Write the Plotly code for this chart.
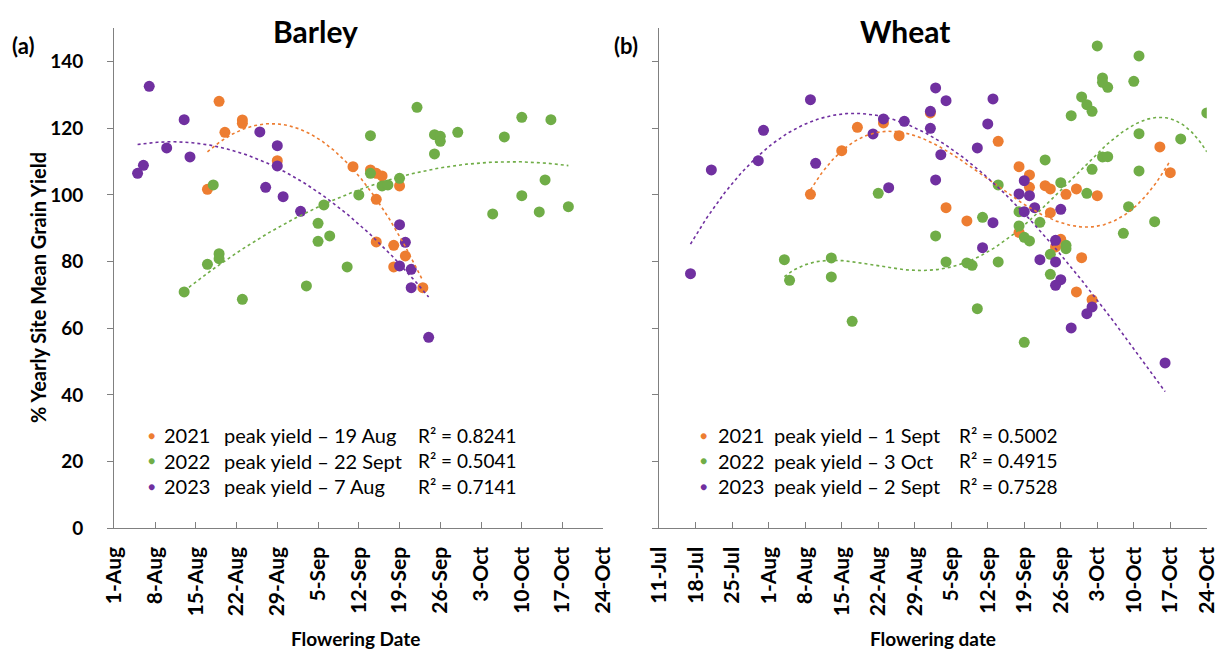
import numpy as np
import pandas as pd
import plotly.graph_objects as go

# ---------------- data ----------------
# Barley (dates as MM-DD, values = % yearly site mean grain yield)
barley_2021_dates = ["08-19", "08-20", "08-23", "08-23", "08-17", "08-29", "09-11", "09-14", "09-15",
                     "09-16", "09-19", "09-15", "09-15", "09-18", "09-20", "09-18", "09-23"]
barley_2021_yield = [128.1, 118.8, 122.5, 121.5, 101.7, 110.3, 108.5, 107.5, 106.5,
                     105.7, 102.7, 98.7, 85.9, 84.9, 81.7, 78.4, 72.2]

barley_2022_dates = ["08-18", "08-13", "08-17", "08-19", "08-19", "08-23", "09-03", "09-05", "09-05",
                     "09-07", "09-06", "09-10", "09-12", "09-14", "09-14", "09-16", "09-17", "09-19",
                     "09-22", "09-25", "09-25", "09-26", "09-26", "09-29", "10-07", "10-10", "10-10",
                     "10-15", "10-14", "10-05", "10-13", "10-18"]
barley_2022_yield = [103.0, 70.9, 79.2, 82.4, 80.9, 68.7, 72.7, 91.5, 86.1,
                     87.7, 97.0, 78.4, 100.0, 117.8, 106.5, 102.7, 103.0, 105.0,
                     126.3, 118.1, 112.3, 117.6, 116.1, 118.8, 117.4, 123.3, 99.8,
                     122.6, 104.5, 94.3, 94.9, 96.5]

barley_2023_dates = ["08-07", "08-06", "08-05", "08-10", "08-13", "08-14", "08-26", "08-29", "08-29",
                     "08-27", "08-30", "09-02", "09-19", "09-20", "09-19", "09-21", "09-21", "09-24"]
barley_2023_yield = [132.6, 108.9, 106.5, 114.1, 122.6, 111.4, 118.9, 114.8, 108.7,
                     102.3, 99.5, 95.1, 91.1, 85.8, 78.7, 77.7, 72.2, 57.3]

# Wheat
wheat_2021_dates = ["09-01", "08-23", "08-18", "08-26", "08-15", "08-09", "09-04", "09-14", "09-18",
                    "09-20", "09-20", "09-23", "09-24", "09-27", "09-29", "10-03", "09-24", "09-08",
                    "09-18", "09-26", "09-25", "09-30", "10-15", "10-17", "09-29", "10-02"]
wheat_2021_yield = [124.6, 121.6, 120.3, 117.8, 113.3, 100.2, 96.2, 116.1, 108.5,
                    106.0, 102.3, 102.8, 101.8, 100.2, 101.8, 99.8, 94.7, 92.2,
                    88.8, 86.7, 84.4, 81.2, 114.4, 106.7, 70.9, 68.6]

wheat_2022_dates = ["08-22", "09-02", "09-04", "08-04", "08-13", "08-05", "08-13", "08-17", "10-03",
                    "10-11", "10-04", "10-04", "10-05", "10-10", "09-30", "10-01", "10-02", "09-28",
                    "10-24", "10-11", "10-19", "10-04", "10-05", "10-02", "10-11", "09-23", "09-26",
                    "10-01", "10-09", "10-14", "10-08", "09-14", "09-11", "09-18", "09-18", "09-19",
                    "09-20", "09-22", "09-27", "09-27", "09-24", "09-14", "09-08", "09-09", "09-24",
                    "09-10", "09-19"]
wheat_2022_yield = [100.5, 87.7, 79.9, 80.6, 81.1, 74.4, 75.4, 62.1, 144.7,
                    141.7, 135.1, 133.8, 132.3, 134.1, 129.4, 127.1, 125.1, 123.8,
                    124.6, 118.4, 116.8, 111.4, 111.5, 107.7, 107.2, 110.5, 103.7,
                    100.5, 96.5, 92.0, 88.5, 103.0, 93.3, 95.0, 90.7, 87.3,
                    86.2, 91.8, 84.9, 83.9, 82.2, 79.9, 79.6, 78.9, 76.2,
                    65.9, 55.8]

wheat_2023_dates = ["09-02", "09-04", "08-09", "09-01", "08-23", "08-27", "09-01", "08-21", "07-31",
                    "07-30", "07-21", "08-10", "09-03", "09-02", "08-24", "07-17", "09-13", "09-12",
                    "09-10", "09-19", "09-18", "09-20", "09-21", "09-19", "09-26", "09-13", "09-11",
                    "09-22", "09-25", "09-25", "09-26", "09-25", "10-02", "10-01", "09-28", "10-16"]
wheat_2023_yield = [132.1, 128.3, 128.6, 125.1, 122.8, 122.1, 120.0, 118.3, 119.4,
                    110.3, 107.5, 109.5, 112.1, 104.5, 102.2, 76.4, 128.8, 121.3,
                    114.1, 104.3, 100.3, 99.8, 96.2, 95.0, 95.7, 91.7, 84.2,
                    80.6, 86.4, 79.9, 74.6, 72.9, 66.4, 64.4, 60.1, 49.6]

years = ["2021", "2022", "2023"]
barley_peaks = ["peak yield \u2013 19 Aug", "peak yield \u2013 22 Sept", "peak yield \u2013 7 Aug"]
barley_r2 = ["0.8241", "0.5041", "0.7141"]
wheat_peaks = ["peak yield \u2013 1 Sept", "peak yield \u2013 3 Oct", "peak yield \u2013 2 Sept"]
wheat_r2 = ["0.5002", "0.4915", "0.7528"]

barley_ticks = ["1-Aug", "8-Aug", "15-Aug", "22-Aug", "29-Aug", "5-Sep", "12-Sep", "19-Sep",
                "26-Sep", "3-Oct", "10-Oct", "17-Oct", "24-Oct"]
wheat_ticks = ["11-Jul", "18-Jul", "25-Jul", "1-Aug", "8-Aug", "15-Aug", "22-Aug", "29-Aug", "5-Sep",
               "12-Sep", "19-Sep", "26-Sep", "3-Oct", "10-Oct", "17-Oct", "24-Oct"]

# trendline polynomial orders (Excel-style polynomial trendlines)
barley_orders = [2, 2, 2]
wheat_orders = [3, 4, 3]

colors = ["#ED7D31", "#70AD47", "#7030A0"]
FONT = "Lato"
W, H = 1219, 653


def to_days(dates, start):
    d = pd.to_datetime(["2001-" + s for s in dates])
    return np.array((d - pd.Timestamp("2001-" + start)).days, dtype=float)


fig = go.Figure()

panels = [
    ("x", "y", "08-01",
     [barley_2021_dates, barley_2022_dates, barley_2023_dates],
     [barley_2021_yield, barley_2022_yield, barley_2023_yield], barley_orders),
    ("x2", "y2", "07-11",
     [wheat_2021_dates, wheat_2022_dates, wheat_2023_dates],
     [wheat_2021_yield, wheat_2022_yield, wheat_2023_yield], wheat_orders),
]

for xa, ya, start, dsets, vsets, orders in panels:
    for i in range(3):
        days = to_days(dsets[i], start)
        fig.add_trace(go.Scatter(x=days, y=vsets[i], mode="markers", xaxis=xa, yaxis=ya,
                                 marker=dict(size=11, color=colors[i], line=dict(width=0)),
                                 showlegend=False, hoverinfo="skip"))
    for i in range(3):
        days = to_days(dsets[i], start)
        c = np.polyfit(days, vsets[i], orders[i])
        xs = np.linspace(days.min(), days.max(), 300)
        fig.add_trace(go.Scatter(x=xs, y=np.polyval(c, xs), mode="lines", xaxis=xa, yaxis=ya,
                                 line=dict(color=colors[i], width=1.6, dash="dot"),
                                 showlegend=False, hoverinfo="skip"))

# ---------------- layout ----------------
def px_x(p):
    return p / W


def px_y(p):
    return 1 - p / H


ydom = [px_y(528.3), px_y(28.3)]
axis_gray = "#808080"
tickfont_x = dict(family=FONT, size=21, color="black", weight="bold")
tickfont_y = dict(family=FONT, size=19, color="black", weight="bold")

common_x = dict(showgrid=False, zeroline=False, showline=True, linecolor=axis_gray, linewidth=1.3,
                ticks="inside", ticklen=6, tickcolor=axis_gray, tickwidth=1.3, tickangle=-90,
                tickfont=tickfont_x, ticklabelstandoff=9, automargin=False)
common_y = dict(showgrid=False, zeroline=False, showline=True, linecolor=axis_gray, linewidth=1.3,
                ticks="outside", ticklen=6, tickcolor=axis_gray, tickwidth=1.3, range=[0, 150],
                tickvals=list(range(0, 141, 20)), automargin=False)

fig.update_layout(
    template="none",
    width=W, height=H,
    margin=dict(l=0, r=0, t=0, b=0, pad=0, autoexpand=False),
    paper_bgcolor="white", plot_bgcolor="white",
    showlegend=False,
    xaxis=dict(domain=[px_x(114.3), px_x(603.3)], range=[0, 84], anchor="y",
               tickvals=list(range(0, 85, 7)), ticktext=barley_ticks, **common_x),
    yaxis=dict(domain=ydom, anchor="x", tickfont=tickfont_y, ticklabelstandoff=20, **common_y),
    xaxis2=dict(domain=[px_x(659.2), px_x(1206.8)], range=[0, 105], anchor="y2",
                tickvals=list(range(0, 106, 7)), ticktext=wheat_ticks, **common_x),
    yaxis2=dict(domain=ydom, anchor="x2", showticklabels=False, **common_y),
)

ann = []


def add_text(text, x, y, size, bold=False, xanchor="left", color="black", angle=0):
    ann.append(dict(text=text, x=px_x(x), y=px_y(y), xref="paper", yref="paper",
                    xanchor=xanchor, yanchor="middle", showarrow=False, textangle=angle,
                    font=dict(family=FONT, size=size, color=color,
                              weight="bold" if bold else "normal")))


add_text("(a)", 10, 45, 22, bold=True)
add_text("(b)", 612, 45, 22, bold=True)
add_text("Barley", 315, 31, 30, bold=True, xanchor="center")
add_text("Wheat", 905, 31, 30, bold=True, xanchor="center")
add_text("% Yearly Site Mean Grain Yield", 38, 288, 20, bold=True, xanchor="center", angle=-90)
add_text("Flowering Date", 356, 638, 19, bold=True, xanchor="center")
add_text("Flowering date", 933, 638, 19, bold=True, xanchor="center")

rows = [435, 460.5, 486]
for i in range(3):
    # barley legend
    add_text("\u25CF", 151.7, rows[i], 12, color=colors[i], xanchor="center")
    add_text(years[i], 162, rows[i], 20)
    add_text(barley_peaks[i], 222, rows[i], 20)
    add_text("R\u00b2 = " + barley_r2[i], 416, rows[i], 19)
    # wheat legend
    add_text("\u25CF", 703.3, rows[i], 12, color=colors[i], xanchor="center")
    add_text(years[i], 715.5, rows[i], 20)
    add_text(wheat_peaks[i], 772, rows[i], 20)
    add_text("R\u00b2 = " + wheat_r2[i], 957, rows[i], 19)

fig.update_layout(annotations=ann)
fig.write_html("out.html")
